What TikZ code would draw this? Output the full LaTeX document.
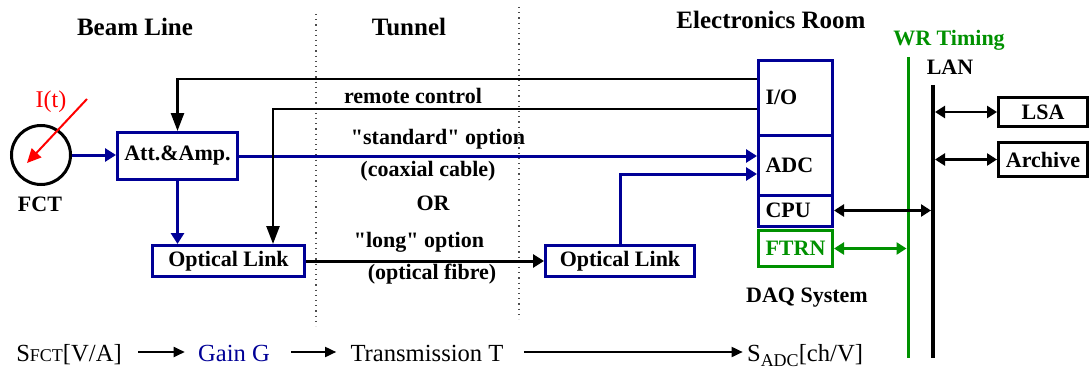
\documentclass[tikz,border=0pt]{standalone}
\usepackage{fontspec}
\setmainfont{Liberation Serif}
% same face without the TeX quote ligatures, for straight double quotes
\newfontfamily\straightq{Liberation Serif}
\newcommand{\sq}{{\straightq"}}
\usetikzlibrary{arrows.meta}
\definecolor{navy}{RGB}{0,0,150}
\definecolor{wrgreen}{RGB}{0,145,0}
\begin{document}
\begin{tikzpicture}[x=0.5pt,y=-0.5pt,
  box/.style={draw, line width=1.5pt, inner sep=0pt, font=\bfseries\fontsize{11}{13}\selectfont},
  bluebox/.style={box, draw=navy},
  daq/.style={bluebox, minimum width=37pt, text width=30pt, inner xsep=3.5pt, align=left},
  head/.style={font=\bfseries\fontsize{12.5}{15}\selectfont},
  lbl/.style={font=\bfseries\fontsize{11}{13}\selectfont},
  bottom/.style={font=\fontsize{12.3}{15}\selectfont, anchor=base, inner sep=0pt},
  sig/.style={navy, line width=1.5pt, -{Triangle[length=5.5pt,width=6.5pt]}},
  ctl/.style={line width=1.25pt, -{Triangle[length=9pt,width=6.5pt]}},
  fib/.style={line width=1.5pt, -{Triangle[length=5.5pt,width=6.5pt]}},
  net/.style={line width=1.25pt, {Triangle[length=5pt,width=6pt]}-{Triangle[length=5pt,width=6pt]}},
  flow/.style={line width=0.9pt, -{Triangle[length=5.5pt,width=5pt]}},
  zone/.style={dotted, line width=0.6pt, black!70}]
\useasboundingbox (0,0) rectangle (1090,369);

% zone separators
\coordinate (z1t) at (316,14);  \coordinate (z1b) at (316,326);
\coordinate (z2t) at (519,7);   \coordinate (z2b) at (519,319);
\draw[zone] (z1t) -- (z1b);
\draw[zone] (z2t) -- (z2b);

% zone headings
\node[head] (hbeam) at (135,27) {Beam Line};
\node[head] (htun) at (409,27) {Tunnel};
\node[head] (helec) at (771,20) {Electronics Room};
\node[lbl, text=wrgreen] (hwr) at (949,40) {WR Timing};
\node[lbl] (hlan) at (950,67) {LAN};

% current transformer
\node[circle, draw, line width=1.5pt, minimum size=29.5pt, inner sep=0pt] (fct) at (41,155) {};
\node[lbl] (fctlbl) at (40,204) {FCT};
\node[font=\fontsize{12}{14}\selectfont, text=red, inner sep=0pt] (it) at (51,102) {I(t)};
\coordinate (itsrc) at (87,99);
\coordinate (ittip) at (27,163);
\draw[red, line width=1pt, -{Triangle[length=7pt,width=6.5pt]}] (itsrc) -- (ittip);

% front-end boxes
\node[bluebox, minimum width=60pt, minimum height=23.5pt] (att) at (177.5,156) {Att.\&Amp.};
\node[bluebox, minimum width=76pt, minimum height=15.5pt] (ol1) at (228.5,261) {Optical Link};
\node[bluebox, minimum width=74.5pt, minimum height=15.5pt] (ol2) at (620,261) {Optical Link};

% DAQ crate
\node[daq, minimum height=37.25pt] (io) at (795.5,97.75) {I/O};
\node[daq, minimum height=30pt] (adc) at (795.5,165) {ADC};
\node[daq, minimum height=15.5pt] (cpu) at (795.5,210.5) {CPU};
\node[daq, draw=wrgreen, text=wrgreen, minimum height=18pt] (ftrn) at (795.5,248.5) {FTRN};
\node[lbl] (daqlbl) at (807,298) {DAQ System};

% network services
\node[box, minimum width=44.5pt, minimum height=14.5pt] (lsa) at (1043,112) {LSA};
\node[box, minimum width=44.5pt, minimum height=17pt] (archive) at (1043,159.5) {Archive};

% buses
\coordinate (wrT) at (908,57);  \coordinate (wrB) at (908,358);
\coordinate (lanT) at (933,85); \coordinate (lanB) at (933,358);
\draw[wrgreen, line width=1.5pt] (wrT) -- (wrB);
\draw[line width=2pt] (lanT) -- (lanB);

% signal path
\draw[sig] (fct.east) -- (fct.east -| att.west);
\draw[sig] (att.south) -- (att.south |- ol1.north);
\draw[sig] (att.east) -- (att.east -| adc.west);
\draw[sig] (ol2.north) |- ([yshift=-4.5pt]adc.west);
\draw[fib] (ol1.east) -- (ol2.west);

% remote control
\coordinate (tc) at (178,79);
\coordinate (rc) at (273,109);
\draw[ctl] (io.west |- tc) -| (att.north);
\draw[ctl] (io.west |- rc) -| (rc |- ol1.north);

% network links
\draw[net, shorten >=1pt] (cpu.east) -- (cpu.east -| lanT);
\draw[net, wrgreen, shorten >=0.75pt] (ftrn.east) -- (ftrn.east -| wrT);
\draw[net, shorten <=1pt] (lanT |- lsa.west) -- (lsa.west);
\draw[net, shorten <=1pt] (lanT |- archive.west) -- (archive.west);

% link labels
\node[lbl] (lrc) at (413,96) {remote control};
\node[lbl] (lstd) at (438,139) {\sq standard\sq{} option};
\node[lbl] (lcoax) at (428,171) {(coaxial cable)};
\node[lbl] (lor) at (433,203) {OR};
\node[lbl] (llong) at (419,242) {\sq long\sq{} option};
\node[lbl] (lfib) at (432,274) {(optical fibre)};

% transfer chain
\node[bottom] (sfct) at (69,361) {S{\fontsize{9}{10}\selectfont FCT}[V/A]};
\node[bottom, text=navy] (gain) at (234,361) {Gain G};
\node[bottom] (trans) at (427,361) {Transmission T};
\node[bottom] (sadc) at (805,361) {S\raisebox{-0.45ex}{\fontsize{9}{10}\selectfont ADC}[ch/V]};
\draw[flow, shorten <=8pt, shorten >=6.5pt] ([yshift=4.5pt]sfct.base east) -- ([yshift=4.5pt]gain.base west);
\draw[flow, shorten <=10.5pt, shorten >=7pt] ([yshift=4.5pt]gain.base east) -- ([yshift=4.5pt]trans.base west);
\draw[flow, shorten <=10pt, shorten >=2pt] ([yshift=4.5pt]trans.base east) -- ([yshift=4.5pt]sadc.base west);
\end{tikzpicture}
\end{document}
